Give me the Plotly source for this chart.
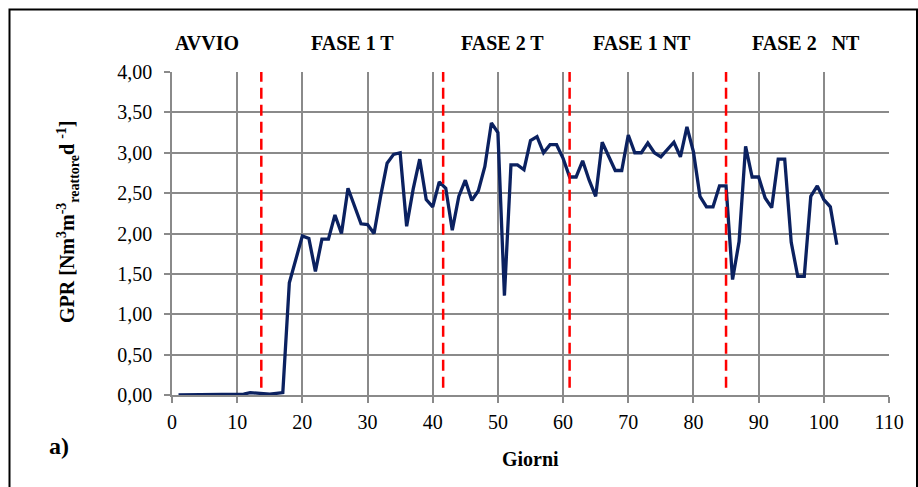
import plotly.graph_objects as go

# ---- data ----
giorni = list(range(1, 103))
gpr = [
    0.00, 0.00, 0.00, 0.00, 0.00, 0.00, 0.00, 0.00, 0.00, 0.00,   # 1-10
    0.01, 0.03, 0.02, 0.01, 0.01, 0.02, 0.03, 1.39, 1.70, 1.97,   # 11-20
    1.94, 1.53, 1.93, 1.93, 2.23, 2.00, 2.56, 2.35, 2.12, 2.11,   # 21-30
    2.00, 2.46, 2.87, 2.98, 3.00, 2.09, 2.55, 2.92, 2.42, 2.33,   # 31-40
    2.64, 2.56, 2.04, 2.46, 2.66, 2.41, 2.53, 2.83, 3.37, 3.25,   # 41-50
    1.23, 2.85, 2.85, 2.79, 3.15, 3.20, 3.00, 3.10, 3.10, 2.93,   # 51-60
    2.70, 2.70, 2.90, 2.66, 2.46, 3.13, 2.95, 2.78, 2.78, 3.22,   # 61-70
    3.00, 3.00, 3.12, 3.00, 2.95, 3.04, 3.13, 2.95, 3.32, 3.01,   # 71-80
    2.46, 2.33, 2.33, 2.59, 2.59, 1.43, 1.90, 3.08, 2.70, 2.70,   # 81-90
    2.44, 2.32, 2.92, 2.92, 1.89, 1.47, 1.47, 2.46, 2.59, 2.42,   # 91-100
    2.33, 1.86,                                                   # 101-102
]
phase_boundaries = [13.7, 41.6, 61, 85]
phase_labels = ["AVVIO", "FASE 1 T", "FASE 2 T", "FASE 1 NT", "FASE 2&nbsp;&nbsp;&nbsp;NT"]
phase_label_x = [207, 352, 502, 642, 806]   # pixel centres
x_ticks = list(range(0, 111, 10))
y_ticks = [0, 0.5, 1, 1.5, 2, 2.5, 3, 3.5, 4]

# ---- layout geometry (pixels) ----
W, H = 918, 487
L, R, T, B = 172, 889, 72, 395
PW, PH = R - L, B - T


def px(xp):
    return (xp - L) / PW


def py(yp):
    return (B - yp) / PH


FONT = "Liberation Serif, DejaVu Serif, serif"
GRID = "#8a8a8a"

fig = go.Figure()
fig.add_trace(go.Scatter(
    x=giorni, y=gpr, mode="lines",
    line=dict(color="#0b2160", width=3.3),
    hoverinfo="x+y", showlegend=False,
))

shapes = []
for xb in phase_boundaries:
    shapes.append(dict(
        type="line", xref="x", yref="y", x0=xb, x1=xb, y0=0.09, y1=4.0,
        line=dict(color="#ff0000", width=2.5, dash="11px,6px"), layer="above",
    ))
# outer border
shapes.append(dict(
    type="rect", xref="paper", yref="paper",
    x0=px(9.5), x1=px(917), y0=py(520), y1=py(9.5),
    line=dict(color="#000000", width=2), fillcolor="rgba(0,0,0,0)", layer="below",
))

annotations = []
for lab, xc in zip(phase_labels, phase_label_x):
    annotations.append(dict(
        text="<b>" + lab + "</b>", xref="paper", yref="paper",
        x=px(xc), y=py(43), showarrow=False, xanchor="center", yanchor="middle",
        font=dict(family=FONT, size=20, color="#000000"),
    ))
annotations.append(dict(
    text="<b>Giorni</b>", xref="paper", yref="paper", x=px(530), y=py(459),
    showarrow=False, xanchor="center", yanchor="middle",
    font=dict(family=FONT, size=20, color="#000000"),
))
annotations.append(dict(
    text="<b>a)</b>", xref="paper", yref="paper", x=px(59), y=py(446),
    showarrow=False, xanchor="center", yanchor="middle",
    font=dict(family=FONT, size=24, color="#000000"),
))
annotations.append(dict(
    text="<b>GPR [Nm<sup>3</sup>m<sup>-3</sup><sub>reattore</sub>d <sup>-1</sup>]</b>",
    xref="paper", yref="paper", x=px(68), y=py(222), textangle=-90,
    showarrow=False, xanchor="center", yanchor="middle",
    font=dict(family=FONT, size=20, color="#000000"),
))

fig.update_layout(
    width=W, height=H,
    margin=dict(l=L, r=W - R, t=T, b=H - B, pad=0),
    paper_bgcolor="white", plot_bgcolor="white",
    separators=",.",
    shapes=shapes, annotations=annotations,
    font=dict(family=FONT, color="#000000"),
)
fig.update_xaxes(
    range=[0, 110], tickvals=x_ticks, ticktext=[str(v) for v in x_ticks],
    showgrid=True, gridcolor=GRID, gridwidth=1.5,
    showline=True, linecolor=GRID, linewidth=1.5, zeroline=False,
    ticks="outside", ticklen=6, tickcolor=GRID, tickwidth=1.5,
    tickfont=dict(family=FONT, size=20, color="#000000"),
    ticklabelstandoff=2,
    fixedrange=True,
)
fig.update_yaxes(
    range=[0, 4], tickvals=y_ticks, tickformat=".2f",
    showgrid=True, gridcolor=GRID, gridwidth=1.5,
    showline=True, linecolor=GRID, linewidth=1.5, zeroline=False,
    ticks="outside", ticklen=6, tickcolor=GRID, tickwidth=1.5,
    tickfont=dict(family=FONT, size=20, color="#000000"),
    ticklabelstandoff=8,
    fixedrange=True,
)

fig.write_html("out.html", config={"displayModeBar": False})
